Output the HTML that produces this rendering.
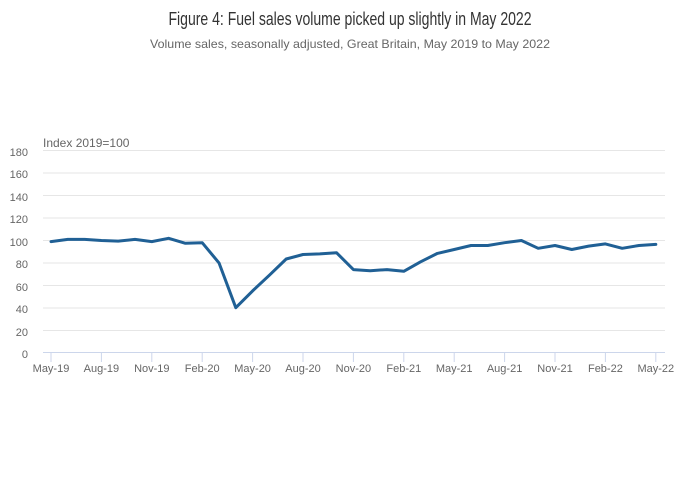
<!DOCTYPE html>
<html><head><meta charset="utf-8"><style>
html,body{margin:0;padding:0;background:#fff;}
svg{display:block;font-family:"Liberation Sans",sans-serif;}
</style></head><body>
<svg width="700" height="502" viewBox="0 0 700 502" xmlns="http://www.w3.org/2000/svg">
<rect width="700" height="502" fill="#fff"/>
<text x="350" y="25" text-anchor="middle" font-size="18" fill="#333" textLength="363" lengthAdjust="spacingAndGlyphs">Figure 4: Fuel sales volume picked up slightly in May 2022</text>
<text x="350" y="48" text-anchor="middle" font-size="12" fill="#666" textLength="400" lengthAdjust="spacingAndGlyphs">Volume sales, seasonally adjusted, Great Britain, May 2019 to May 2022</text>
<text x="43" y="147" font-size="12" fill="#666">Index 2019=100</text>
<g stroke="#e6e6e6" stroke-width="1">
<line x1="43" x2="665" y1="150.5" y2="150.5"/>
<line x1="43" x2="665" y1="173" y2="173"/>
<line x1="43" x2="665" y1="195.5" y2="195.5"/>
<line x1="43" x2="665" y1="218" y2="218"/>
<line x1="43" x2="665" y1="240.5" y2="240.5"/>
<line x1="43" x2="665" y1="263" y2="263"/>
<line x1="43" x2="665" y1="285.5" y2="285.5"/>
<line x1="43" x2="665" y1="308" y2="308"/>
<line x1="43" x2="665" y1="330.5" y2="330.5"/>
</g>
<line x1="43" x2="665" y1="352.5" y2="352.5" stroke="#ccd6eb"/>
<g stroke="#ccd6eb">
<line x1="51" x2="51" y1="352" y2="362"/>
<line x1="101.4" x2="101.4" y1="352" y2="362"/>
<line x1="151.8" x2="151.8" y1="352" y2="362"/>
<line x1="202.2" x2="202.2" y1="352" y2="362"/>
<line x1="252.6" x2="252.6" y1="352" y2="362"/>
<line x1="303" x2="303" y1="352" y2="362"/>
<line x1="353.4" x2="353.4" y1="352" y2="362"/>
<line x1="403.8" x2="403.8" y1="352" y2="362"/>
<line x1="454.2" x2="454.2" y1="352" y2="362"/>
<line x1="504.6" x2="504.6" y1="352" y2="362"/>
<line x1="555" x2="555" y1="352" y2="362"/>
<line x1="605.4" x2="605.4" y1="352" y2="362"/>
<line x1="655.8" x2="655.8" y1="352" y2="362"/>
</g>
<g font-size="11" fill="#666" text-anchor="end">
<text x="28" y="156">180</text>
<text x="28" y="178">160</text>
<text x="28" y="201">140</text>
<text x="28" y="223">120</text>
<text x="28" y="246">100</text>
<text x="28" y="268">80</text>
<text x="28" y="291">60</text>
<text x="28" y="313">40</text>
<text x="28" y="336">20</text>
<text x="28" y="358">0</text>
</g>
<g font-size="11" fill="#666" text-anchor="middle">
<text x="51" y="372">May-19</text>
<text x="101.4" y="372">Aug-19</text>
<text x="151.8" y="372">Nov-19</text>
<text x="202.2" y="372">Feb-20</text>
<text x="252.6" y="372">May-20</text>
<text x="303" y="372">Aug-20</text>
<text x="353.4" y="372">Nov-20</text>
<text x="403.8" y="372">Feb-21</text>
<text x="454.2" y="372">May-21</text>
<text x="504.6" y="372">Aug-21</text>
<text x="555" y="372">Nov-21</text>
<text x="605.4" y="372">Feb-22</text>
<text x="655.8" y="372">May-22</text>
</g>
<polyline fill="none" stroke="#206095" stroke-width="3" stroke-linejoin="round" stroke-linecap="round" points="51,241.6 67.8,239.4 84.6,239.4 101.4,240.5 118.2,241.1 135,239.4 151.8,241.6 168.6,238.3 185.4,243.3 202.2,242.7 219,262.9 235.8,307.7 252.6,290.9 269.4,275.2 286.2,259 303,254.5 319.8,253.9 336.6,252.8 353.4,269.6 370.2,270.7 387,269.6 403.8,271.3 420.6,261.8 437.4,253.4 454.2,249.5 471,245.5 487.8,245.5 504.6,242.7 521.4,240.5 538.2,248.3 555,245.5 571.8,249.5 588.6,246.1 605.4,243.9 622.2,248.3 639,245.5 655.8,244.4"/>
</svg>
</body></html>
